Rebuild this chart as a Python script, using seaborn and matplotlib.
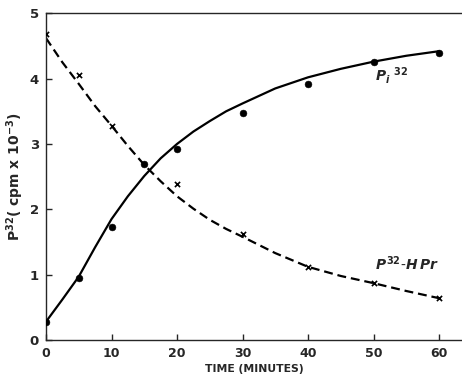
import matplotlib
matplotlib.use("Agg")
import matplotlib.pyplot as plt
import seaborn as sns
import pandas as pd

# Measured points
time_pts = [0, 5, 10, 15, 20, 30, 40, 50, 60]
pi32_pts = [0.27, 0.95, 1.73, 2.69, 2.92, 3.48, 3.92, 4.26, 4.40]
hpr_time = [0, 5, 10, 20, 30, 40, 50, 60]
hpr_pts = [4.68, 4.06, 3.27, 2.39, 1.62, 1.11, 0.87, 0.64]

# Drawn (fitted-by-eye) curves
curve_time = [0, 2.5, 5, 7.5, 10, 12.5, 15, 17.5, 20, 22.5, 25, 27.5, 30, 35, 40, 45, 50, 55, 60]
pi32_curve = [0.28, 0.62, 0.97, 1.42, 1.85, 2.20, 2.51, 2.78, 3.00, 3.19, 3.35, 3.50, 3.62, 3.85, 4.02, 4.15, 4.26, 4.35, 4.42]
hpr_curve = [4.62, 4.25, 3.92, 3.58, 3.28, 2.97, 2.68, 2.43, 2.20, 2.01, 1.84, 1.70, 1.58, 1.33, 1.12, 0.98, 0.87, 0.75, 0.64]

x_ticks = [0, 10, 20, 30, 40, 50, 60]
y_ticks = [0, 1, 2, 3, 4, 5]

sns.set_style("ticks")
plt.rcParams['font.family'] = ['DejaVu Sans']
plt.rcParams['mathtext.fontset'] = 'custom'
plt.rcParams['mathtext.it'] = 'DejaVu Sans:italic:bold'
plt.rcParams['mathtext.bf'] = 'DejaVu Sans:bold'
plt.rcParams['mathtext.rm'] = 'DejaVu Sans:bold'

fig = plt.figure(figsize=(4.62, 3.75), dpi=100)
ax = fig.add_axes([46/462, 35/375, 1 - 46/462, (340 - 13.3)/375])

curves = pd.DataFrame({"t": curve_time, "pi": pi32_curve, "hpr": hpr_curve})
sns.lineplot(data=curves, x="t", y="pi", ax=ax, color="black", lw=1.6,
             solid_joinstyle="round")
sns.lineplot(data=curves, x="t", y="hpr", ax=ax, color="black", lw=1.6,
             linestyle=(0, (4, 2.2)))

pts = pd.DataFrame({"t": time_pts, "pi": pi32_pts})
sns.scatterplot(data=pts, x="t", y="pi", ax=ax, color="black", s=24,
                marker="o", edgecolor="black", zorder=5)
hp = pd.DataFrame({"t": hpr_time, "hpr": hpr_pts})
sns.scatterplot(data=hp, x="t", y="hpr", ax=ax, color="black", s=14,
                marker="x", linewidth=1.2, zorder=5)

ax.set_xlim(0, (462 - 46) / 6.55)
ax.set_ylim(0, 5)
ax.set_xticks(x_ticks)
ax.set_yticks(y_ticks)
ax.set_xticklabels([str(v) for v in x_ticks], fontsize=9, fontweight="bold")
ax.set_yticklabels([str(v) for v in y_ticks], fontsize=9.5, fontweight="bold")
ax.tick_params(direction="in", length=4, width=1, pad=5)
for s in ["left", "bottom", "top"]:
    ax.spines[s].set_linewidth(1.0)
ax.spines["right"].set_visible(False)

ax.set_xlabel("TIME (MINUTES)", fontsize=7.8, fontweight="bold", labelpad=3)
ax.set_ylabel(r"P$^{\mathbf{32}}$( cpm x 10$^{\mathbf{-3}}$)", fontsize=10,
              fontweight="bold", labelpad=3)

ax.text(50.3, 4.05, r"$P_{i}$ $^{32}$", fontsize=10, ha="left", va="center")
ax.text(50.3, 1.17, r"$P^{32}$-$H\,Pr$", fontsize=10, ha="left", va="center")

fig.savefig("out.png", dpi=100)
